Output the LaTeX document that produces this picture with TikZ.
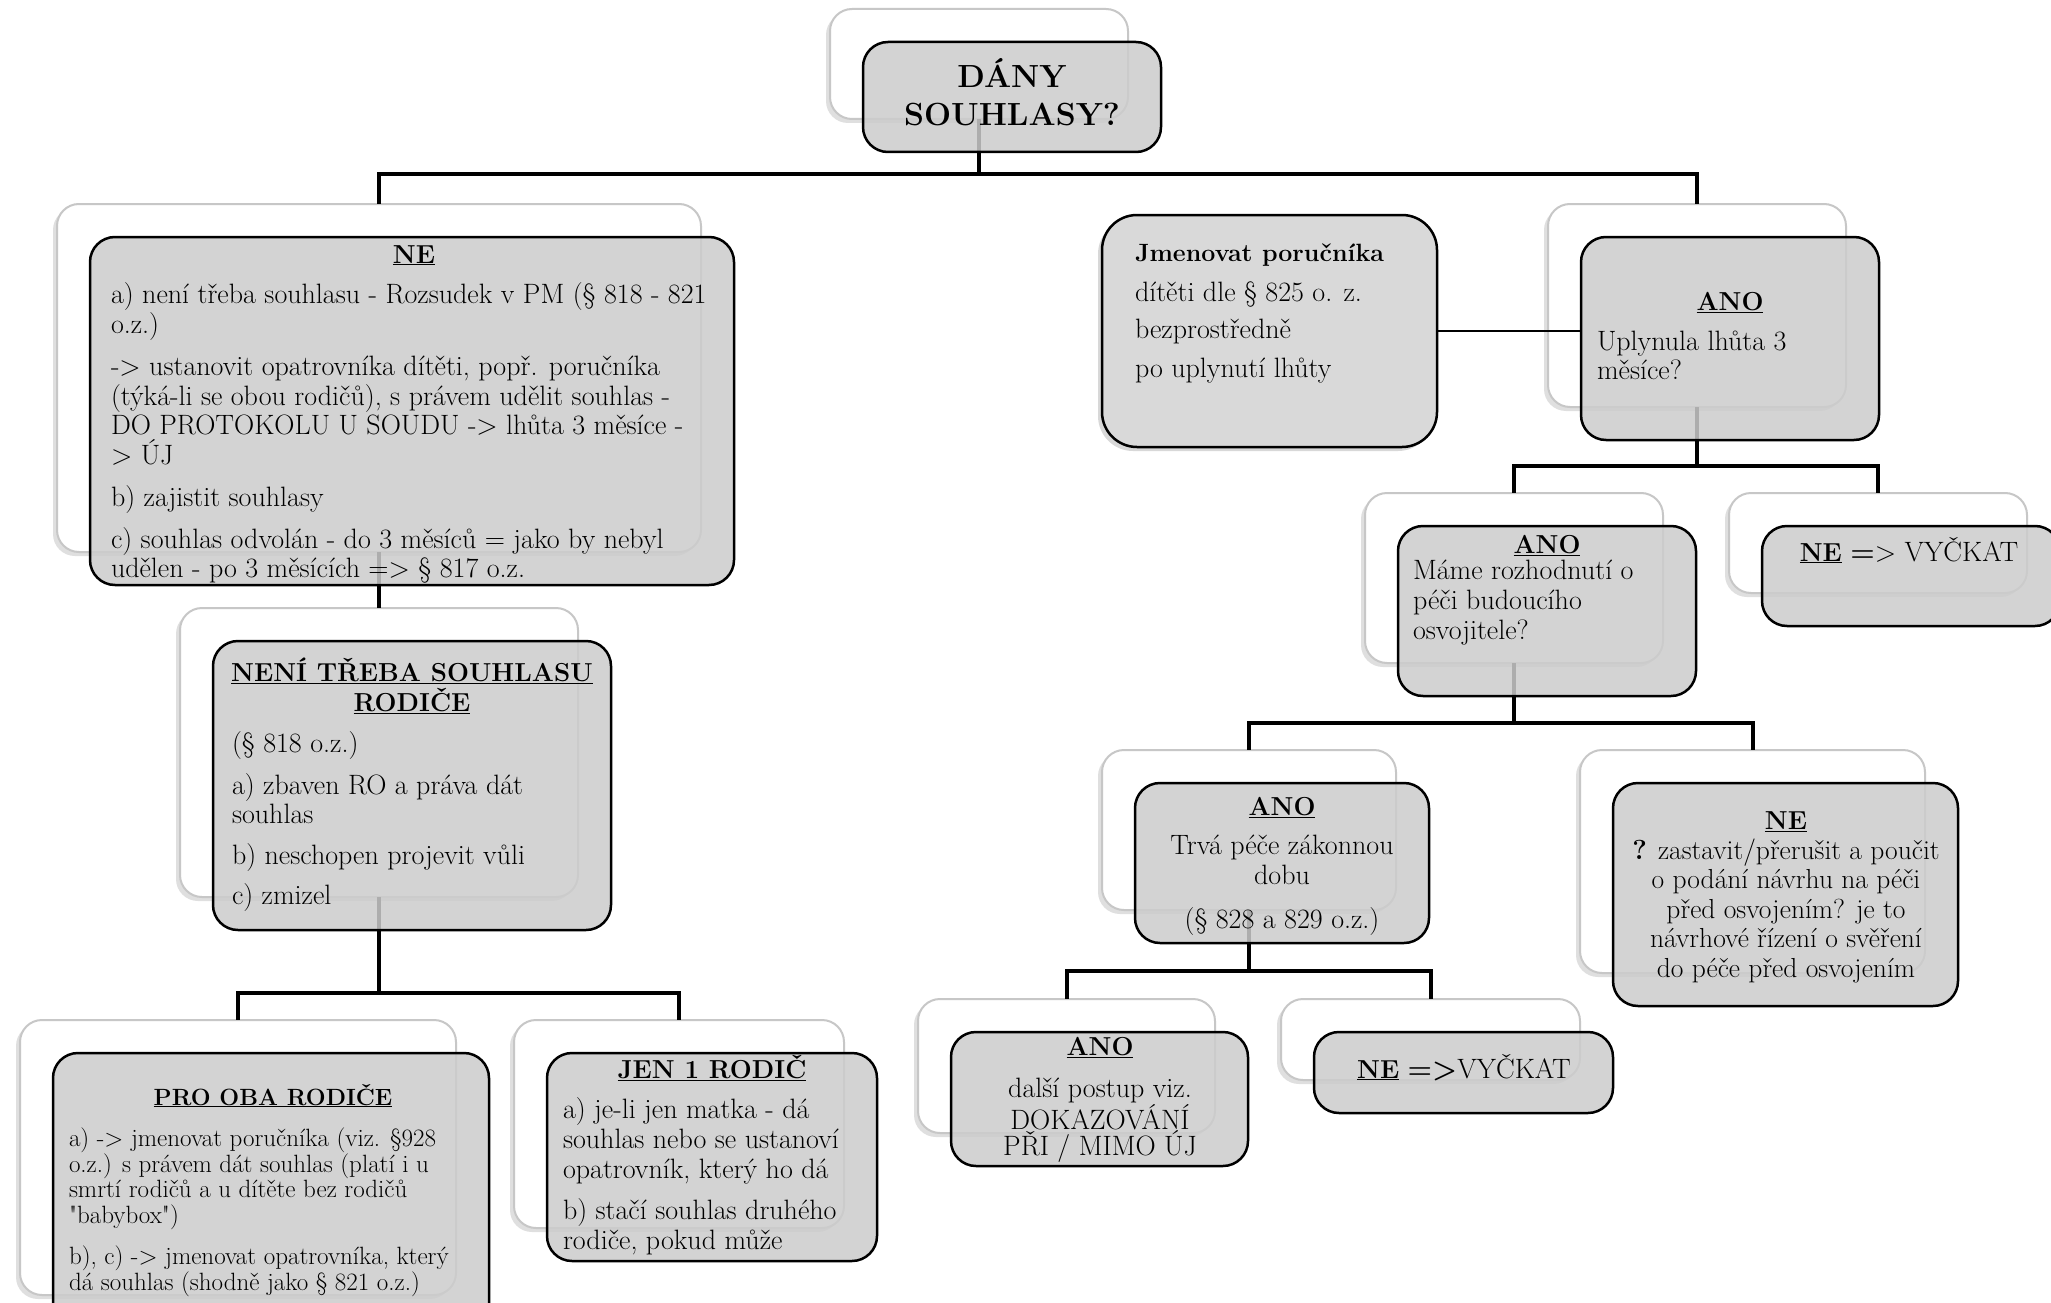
\documentclass[tikz,border=0pt]{standalone}
\usepackage{fontspec}
\usetikzlibrary{shadows}
\tikzset{
    rear/.style={
        draw=black!22,
        line width=2pt,
        fill=white,
        rounded corners=22pt,
        anchor=north west,
        inner sep=0pt,
        outer sep=0pt,
        drop shadow={shadow xshift=-4pt,shadow yshift=-4pt,opacity=0.25}
    },
    face/.style={
        draw=black,
        line width=2.5pt,
        fill=black!20,
        fill opacity=0.85,
        rounded corners=25pt,
        anchor=north west,
        inner sep=0pt,
        outer sep=0pt
    },
    lonebox/.style={
        draw=black,
        line width=2.5pt,
        fill=black!15,
        rounded corners=35pt,
        anchor=north west,
        inner sep=0pt,
        outer sep=0pt,
        drop shadow={shadow xshift=-4pt,shadow yshift=-4pt,opacity=0.3}
    },
    link/.style={line width=4pt},
    txt/.style={inner sep=0pt,outer sep=0pt,font=\fontsize{28}{29.5}\selectfont},
    head/.style={txt,font=\fontsize{26}{29.5}\selectfont\bfseries}
}
\newcommand{\headtxt}[1]{{\fontsize{26}{29.5}\selectfont\bfseries\underline{#1}}}
\newcommand{\boxlist}{
    dany/830/9/298/110, ne/57/204/644/348, neni/180/608/398/289,
    oba/20/1020/436/275, jen/514/1020/330/208,
    ano/1548/204/298/203, ano2/1365/493/298/170, ne2/1729/493/298/100,
    ano3/1102/750/294/160, ne3/1580/750/345/223,
    ano4/918/999/297/134, ne4/1281/999/299/81
}
\begin{document}
\begin{tikzpicture}[x=1pt,y=-1pt]
    \path[use as bounding box,fill=white] (0,0) rectangle (2051,1303);
    \clip (0,0) rectangle (2051,1303);
    \foreach \n/\x/\y/\w/\h in \boxlist
        \node[rear,minimum width=\w*1pt,minimum height=\h*1pt] (\n) at (\x,\y) {};
    \draw[link] (dany.south) -- ++(0,55) -| (ne.north);
    \draw[link] (dany.south) -- ++(0,55) -| (ano.north);
    \draw[link] (ne.south) -- (neni.north);
    \draw[link] (neni.south) -- ++(0,96) -| (oba.north);
    \draw[link] (neni.south) -- ++(0,96) -| (jen.north);
    \draw[link] (ano.south) -- ++(0,59) -| (ano2.north);
    \draw[link] (ano.south) -- ++(0,59) -| (ne2.north);
    \draw[link] (ano2.south) -- ++(0,60) -| (ano3.north);
    \draw[link] (ano2.south) -- ++(0,60) -| (ne3.north);
    \draw[link] (ano3.south) -- ++(0,61) -| (ano4.north);
    \draw[link] (ano3.south) -- ++(0,61) -| (ne4.north);
    \foreach \n/\x/\y/\w/\h in \boxlist
        \node[face,minimum width=\w*1pt,minimum height=\h*1pt] (\n-f) at (\x+33,\y+33) {};
    \node[lonebox,minimum width=335pt,minimum height=232pt] (jmen) at (1102,215) {};
    \draw[line width=2.5pt] (jmen.east) -- (jmen.east -| ano-f.west);

    \node[head,align=center,font=\fontsize{32}{38}\selectfont\bfseries] (dany-t) at (1012,92) {DÁNY\\SOUHLASY?};

    \node[head,anchor=base] (ne-h) at (414,263) {\underline{NE}};
    \node[txt,anchor=north west,align=left] (ne-t) at (111,283) {a) není třeba souhlasu - Rozsudek v PM (§ 818 - 821\\o.z.)\\[13pt]
        -> ustanovit opatrovníka dítěti, popř. poručníka\\(týká-li se obou rodičů), s právem udělit souhlas -\\DO PROTOKOLU U SOUDU -> lhůta 3 měsíce -\\> ÚJ\\[13pt]
        b) zajistit souhlasy\\[12pt]
        c) souhlas odvolán - do 3 měsíců = jako by nebyl\\udělen - po 3 měsících => § 817 o.z.};

    \node[head,anchor=north,align=center] (neni-h) at (412,658) {\underline{NENÍ TŘEBA SOUHLASU}\\\underline{RODIČE}};
    \node[txt,anchor=north west,align=left] (neni-t) at (232,732) {(§ 818 o.z.)\\[12pt]
        a) zbaven RO a práva dát\\souhlas\\[11pt]
        b) neschopen projevit vůli\\[11pt]
        c) zmizel};

    \node[head,anchor=base,font=\fontsize{23.5}{25.5}\selectfont\bfseries] (oba-h) at (273,1105) {\underline{PRO OBA RODIČE}};
    \node[txt,anchor=north west,align=left,font=\fontsize{25}{25.5}\selectfont] (oba-t) at (69,1128) {a) -> jmenovat poručníka (viz. §928\\o.z.) s právem dát souhlas (platí i u\\smrtí rodičů a u dítěte bez rodičů\\\textquotedbl babybox\textquotedbl)\\[16pt]
        b), c) -> jmenovat opatrovníka, který\\dá souhlas (shodně jako § 821 o.z.)};

    \node[head,anchor=base] (jen-h) at (712,1078) {\underline{JEN 1 RODIČ}};
    \node[txt,anchor=north west,align=left,font=\fontsize{28}{30}\selectfont] (jen-t) at (563,1098) {a) je-li jen matka - dá\\souhlas nebo se ustanoví\\opatrovník, který ho dá\\[11pt]
        b) stačí souhlas druhého\\rodiče, pokud může};

    \node[txt,anchor=north west,align=left] (jmen-t) at (1135,244) {{\fontsize{25}{29.5}\selectfont\bfseries Jmenovat poručníka}\\[10pt]
        dítěti dle § 825 o. z.\\[8pt]
        bezprostředně\\[9pt]
        po uplynutí lhůty};

    \node[head,anchor=base] (ano-h) at (1730,310) {\underline{ANO}};
    \node[txt,anchor=north west,align=left] (ano-t) at (1597,331) {Uplynula lhůta 3\\měsíce?};

    \node[head,anchor=base] (ano2-h) at (1547,553) {\underline{ANO}};
    \node[txt,anchor=north west,align=left,font=\fontsize{28}{30}\selectfont] (ano2-t) at (1413,560) {Máme rozhodnutí o\\péči budoucího\\osvojitele?};

    \node[txt,anchor=base] (ne2-t) at (1909,561) {\headtxt{NE} \textbf{=}> VYČKAT};

    \node[txt,anchor=north,align=center] (ano3-t) at (1282,797) {\headtxt{ANO}\\[10pt]
        Trvá péče zákonnou\\dobu\\[15pt]
        (§ 828 a 829 o.z.)};

    \node[txt,anchor=north,align=center,font=\fontsize{27.5}{29.5}\selectfont] (ne3-t) at (1786,812) {\headtxt{NE}\\
        \textbf{?} zastavit/přerušit a poučit\\o podání návrhu na péči\\před osvojením? je to\\návrhové řízení o svěření\\do péče před osvojením};

    \node[txt,anchor=north,align=center,font=\fontsize{28}{26.5}\selectfont] (ano4-t) at (1100,1037) {\headtxt{ANO}\\[16pt]
        další postup viz.\\DOKAZOVÁNÍ\\PŘI / MIMO ÚJ};

    \node[txt,anchor=base] (ne4-t) at (1464,1078) {\headtxt{NE} \textbf{=>}VYČKAT};
\end{tikzpicture}
\end{document}
